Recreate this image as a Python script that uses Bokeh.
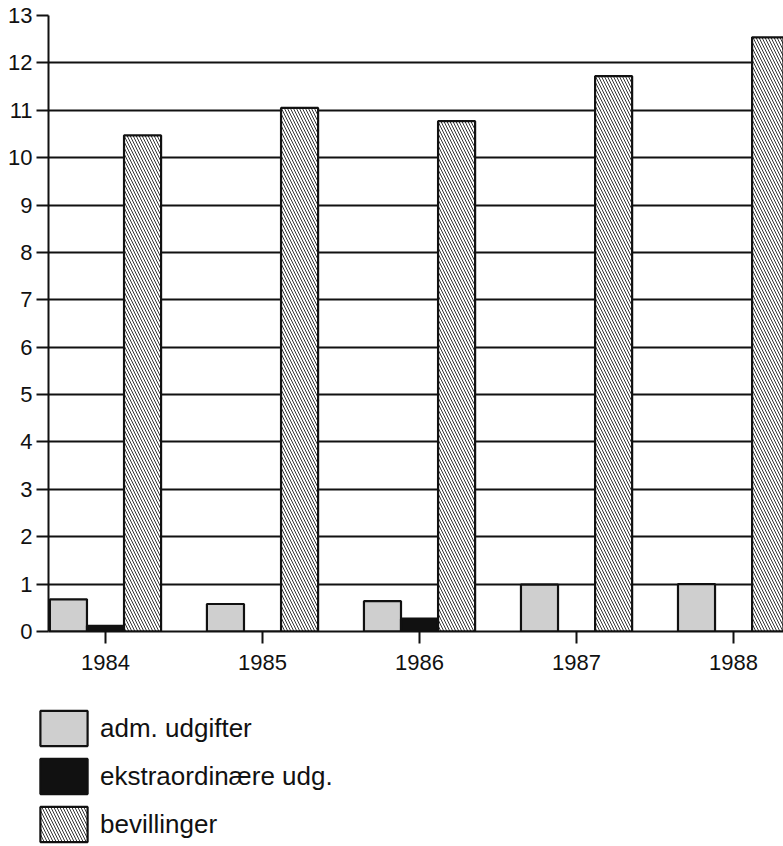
from bokeh.plotting import figure
from bokeh.layouts import column
from bokeh.models import Range1d, FixedTicker, Legend, LegendItem, ColumnDataSource
from bokeh.transform import dodge
from bokeh.embed import file_html
from bokeh.resources import INLINE

years = [1984, 1985, 1986, 1987, 1988]
adm_udgifter = [0.68, 0.58, 0.64, 0.99, 1.0]
ekstraordinaere_udg = [0.12, 0.0, 0.27, 0.0, 0.0]
bevillinger = [10.47, 11.05, 10.77, 11.72, 12.54]
y_ticks = list(range(0, 14))
labels = ["adm. udgifter", "ekstraordinære udg.", "bevillinger"]

src = ColumnDataSource(dict(year=years, adm=adm_udgifter, eks=ekstraordinaere_udg, bev=bevillinger))

FONT = "Liberation Sans"
BW = 0.236
INK = "#111111"

styles = [
    dict(fill_color="#cfcfcf", line_color=INK, line_width=2.2),
    dict(fill_color=INK, line_color=INK, line_width=2.2),
    dict(fill_color="white", line_color=INK, line_width=2.2,
         hatch_pattern="\\", hatch_color="#333333", hatch_scale=6, hatch_weight=1),
]
tops = ["adm", "eks", "bev"]
offsets = [-BW, 0, BW]

p = figure(width=783, height=690, output_backend="svg", toolbar_location=None,
           x_range=Range1d(1983.637, 1988.318), y_range=Range1d(0, 13),
           min_border_left=48, min_border_right=0, min_border_top=15, min_border_bottom=59)
p.outline_line_color = None
p.background_fill_color = "white"
p.border_fill_color = "white"

p.xgrid.grid_line_color = None
p.ygrid.grid_line_color = INK
p.ygrid.grid_line_width = 2
p.ygrid.ticker = FixedTicker(ticks=y_ticks)

for t, o, s in zip(tops, offsets, styles):
    p.vbar(x=dodge("year", o, range=p.x_range), top=t, width=BW, source=src, **s)

for ax in (p.xaxis[0], p.yaxis[0]):
    ax.axis_line_color = INK
    ax.axis_line_width = 2
    ax.major_tick_line_color = INK
    ax.major_tick_line_width = 2
    ax.major_tick_in = 0
    ax.major_tick_out = 12
    ax.minor_tick_line_color = None
    ax.major_label_text_font = FONT
    ax.major_label_text_font_size = "22px"
    ax.major_label_text_color = INK

p.xaxis.ticker = FixedTicker(ticks=years)
p.xaxis.major_label_standoff = 11
p.yaxis.ticker = FixedTicker(ticks=y_ticks)
p.yaxis.major_label_standoff = 4

# legend panel: hidden copies of the series, used only for the legend keys
p2 = figure(width=783, height=156, output_backend="svg", toolbar_location=None,
            x_range=Range1d(1983.637, 1988.318), y_range=Range1d(-100, -99),
            x_axis_type=None, y_axis_type=None,
            min_border_left=0, min_border_right=0, min_border_top=0, min_border_bottom=0)
if "frame_align" in p2.properties():
    p2.frame_align = False
p2.grid.visible = False
p2.outline_line_color = None
p2.background_fill_color = "white"
p2.border_fill_color = "white"

lr = [p2.vbar(x="year", top=t, width=BW, source=src, **s) for t, s in zip(tops, styles)]
for r in lr:
    r.visible = False

legend = Legend(items=[LegendItem(label=labels[i], renderers=[lr[i]]) for i in range(3)],
                location=(34, 0), orientation="vertical",
                glyph_width=59, glyph_height=44, spacing=4, padding=0, margin=0,
                label_standoff=7, label_text_font=FONT, label_text_font_size="26px",
                label_text_color=INK, border_line_color=None,
                background_fill_alpha=0, click_policy="none")
p2.add_layout(legend, "center")

layout = column(p, p2, spacing=0)
open("out.html", "w").write(file_html(layout, INLINE))
